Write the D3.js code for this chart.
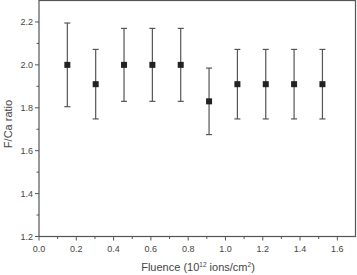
<!DOCTYPE html>
<html>
<head>
<script src="https://d3js.org/d3.v7.min.js"></script>
<style>
  body { margin: 0; background: #fff; }
  text { font-family: "Liberation Sans", Arial, sans-serif; fill: #444; }
</style>
</head>
<body>
<svg width="357" height="275"></svg>
<script>
  // data
  var fluence = [0.152, 0.304, 0.456, 0.608, 0.76, 0.912, 1.064, 1.216, 1.368, 1.52];
  var ratio   = [2.0, 1.91, 2.0, 2.0, 2.0, 1.83, 1.91, 1.91, 1.91, 1.91];
  var err     = [0.195, 0.162, 0.17, 0.17, 0.17, 0.155, 0.162, 0.162, 0.162, 0.162];
  var xTicks  = [0.0, 0.2, 0.4, 0.6, 0.8, 1.0, 1.2, 1.4, 1.6];
  var yTicks  = [1.2, 1.4, 1.6, 1.8, 2.0, 2.2];

  var svg = d3.select("svg"),
      plotLeft = 39, plotRight = 356, plotTop = 0.5, plotBottom = 236.5;

  var x = d3.scaleLinear().domain([0, 1.7]).range([plotLeft, plotRight]);
  var y = d3.scaleLinear().domain([1.2, 2.3]).range([plotBottom, plotTop]);
  var axisColor = "#555";

  // frame
  svg.append("rect")
     .attr("x", plotLeft).attr("y", plotTop)
     .attr("width", plotRight - plotLeft - 0.5).attr("height", plotBottom - plotTop)
     .attr("fill", "none").attr("stroke", axisColor).attr("stroke-width", 1.2);

  // x axis
  var xMinor = d3.range(0.1, 1.7, 0.2);
  var gx = svg.append("g");
  gx.selectAll("line.maj").data(xTicks).enter().append("line")
    .attr("x1", function(d) { return x(d); }).attr("x2", function(d) { return x(d); })
    .attr("y1", plotBottom).attr("y2", plotBottom + 4)
    .attr("stroke", axisColor);
  gx.selectAll("line.min").data(xMinor).enter().append("line")
    .attr("x1", function(d) { return x(d); }).attr("x2", function(d) { return x(d); })
    .attr("y1", plotBottom).attr("y2", plotBottom + 2.5)
    .attr("stroke", axisColor);
  gx.selectAll("text").data(xTicks).enter().append("text")
    .attr("x", function(d) { return x(d); }).attr("y", 252)
    .attr("text-anchor", "middle").attr("font-size", 9)
    .text(function(d) { return d.toFixed(1); });

  // y axis
  var yMinor = d3.range(1.3, 2.3, 0.2);
  var gy = svg.append("g");
  gy.selectAll("line.maj").data(yTicks).enter().append("line")
    .attr("x1", plotLeft - 4).attr("x2", plotLeft)
    .attr("y1", function(d) { return y(d); }).attr("y2", function(d) { return y(d); })
    .attr("stroke", axisColor);
  gy.selectAll("line.min").data(yMinor).enter().append("line")
    .attr("x1", plotLeft - 2.5).attr("x2", plotLeft)
    .attr("y1", function(d) { return y(d); }).attr("y2", function(d) { return y(d); })
    .attr("stroke", axisColor);
  gy.selectAll("text").data(yTicks).enter().append("text")
    .attr("x", plotLeft - 6).attr("y", function(d) { return y(d) + 3; })
    .attr("text-anchor", "end").attr("font-size", 9)
    .text(function(d) { return d.toFixed(1); });

  // axis titles
  var xt = svg.append("text")
     .attr("x", 198).attr("y", 271)
     .attr("text-anchor", "middle").attr("font-size", 11);
  xt.append("tspan").text("Fluence (10");
  xt.append("tspan").attr("dy", -4).attr("font-size", 6.5).text("12");
  xt.append("tspan").attr("dy", 4).text(" ions/cm");
  xt.append("tspan").attr("dy", -4).attr("font-size", 6.5).text("2");
  xt.append("tspan").attr("dy", 4).text(")");

  svg.append("text")
     .attr("transform", "translate(12,124) rotate(-90)")
     .attr("text-anchor", "middle").attr("font-size", 11)
     .text("F/Ca ratio");

  // error bars
  var pts = fluence.map(function(f, i) { return { x: f, y: ratio[i], e: err[i] }; });
  var eb = svg.append("g").attr("stroke", "#555").attr("stroke-width", 1.2);
  pts.forEach(function(d) {
    var cx = x(d.x);
    eb.append("line").attr("x1", cx).attr("x2", cx)
      .attr("y1", y(d.y + d.e)).attr("y2", y(d.y - d.e));
    eb.append("line").attr("x1", cx - 3).attr("x2", cx + 3)
      .attr("y1", y(d.y + d.e)).attr("y2", y(d.y + d.e));
    eb.append("line").attr("x1", cx - 3).attr("x2", cx + 3)
      .attr("y1", y(d.y - d.e)).attr("y2", y(d.y - d.e));
  });

  // markers
  svg.selectAll("rect.pt").data(pts).enter().append("rect")
     .attr("x", function(d) { return x(d.x) - 3; })
     .attr("y", function(d) { return y(d.y) - 3; })
     .attr("width", 6).attr("height", 6)
     .attr("fill", "#222");
</script>
</body>
</html>
